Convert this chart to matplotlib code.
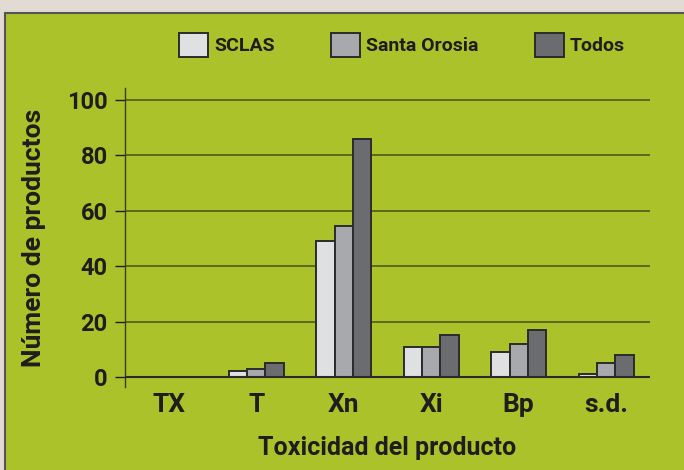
import matplotlib.pyplot as plt
import matplotlib.patches as mpatches
import numpy as np

categories = ['TX', 'T', 'Xn', 'Xi', 'Bp', 's.d.']
series = ['SCLAS', 'Santa Orosia', 'Todos']
sclas = [0, 2, 49, 11, 9, 1]
santa_orosia = [0, 3, 54.5, 11, 12, 5]
todos = [0, 5, 86, 15, 17, 8]
yticks = [0, 20, 40, 60, 80, 100]

colors = ['#dfe0e2', '#a8a9ac', '#6b6c70']
green = '#acc22a'
text_color = '#1e1e1e'
plt.rcParams['font.family'] = ['Roboto', 'DejaVu Sans']
plt.rcParams['font.weight'] = 'bold'

fig = plt.figure(figsize=(6.84, 4.70), dpi=100)
fig.patch.set_facecolor('#e2dbd3')
# green panel behind the chart
fig.patches.append(mpatches.Rectangle((5 / 684, -0.01), 1, 1 - 13 / 470 + 0.01, transform=fig.transFigure,
                                      facecolor=green, edgecolor='#555555', linewidth=1.5, zorder=-5))

ax = fig.add_axes([125 / 684, 83 / 470, 525 / 684, 299 / 470])
ax.patch.set_alpha(0)

x = np.arange(len(categories))
w = 0.21
for i, (name, vals) in enumerate(zip(series, [sclas, santa_orosia, todos])):
    ax.bar(x + (i - 1) * w, vals, w, color=colors[i], edgecolor='#2b2b2b', linewidth=1.4,
           label=name, zorder=3)

ax.set_xlim(-0.5, 5.5)
ax.set_ylim(-3.6, 104.3)
ax.set_yticks(yticks)
for t in yticks[1:]:
    ax.axhline(t, color='#56611c', linewidth=1.3, zorder=1)
ax.axhline(0, color='#2b2b2b', linewidth=1.5, zorder=4)

for s in ['top', 'right', 'bottom']:
    ax.spines[s].set_visible(False)
ax.spines['left'].set_color('#3a3f1a')
ax.spines['left'].set_linewidth(1.0)

ax.set_xticks(x)
ax.set_xticklabels(categories, fontsize=19, fontweight='bold', color=text_color)
ax.tick_params(axis='x', length=0, pad=4)
ax.tick_params(axis='y', labelsize=17, colors=text_color, length=7.5, width=1.0, pad=5)
for lbl in ax.get_yticklabels():
    lbl.set_fontweight('bold')

ax.set_xlabel('Toxicidad del producto', fontsize=18, fontweight='bold', color=text_color, labelpad=14)
ax.set_ylabel('Número de productos', fontsize=19, fontweight='bold', color=text_color, labelpad=15)

leg = fig.legend(*ax.get_legend_handles_labels(), loc='center', bbox_to_anchor=(402 / 684, 1 - 45 / 470),
                 ncol=3, frameon=False, fontsize=14, handlelength=1.5, handleheight=1.5,
                 handletextpad=0.3, columnspacing=2.9, borderpad=0)
for t in leg.get_texts():
    t.set_color(text_color)
    t.set_fontweight('bold')

fig.savefig('out.png', dpi=100, facecolor=fig.get_facecolor())
